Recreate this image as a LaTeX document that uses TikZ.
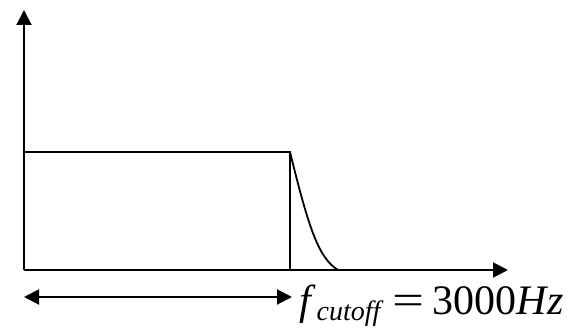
\documentclass[tikz,border=0pt]{standalone}
\usepackage{fontspec}
\setmainfont{Liberation Serif}
\usetikzlibrary{arrows.meta}
\tikzset{
  axis/.style={line width=2pt,-{Triangle[length=15pt,width=15pt]}},
  trace/.style={line width=1.8pt},
  span/.style={line width=2pt,{Triangle[length=15pt,width=15pt]}-{Triangle[length=15pt,width=15pt]}}
}
\begin{document}
\begin{tikzpicture}[x=1pt,y=-1pt]
\useasboundingbox (0,0) rectangle (584,329);
\coordinate (O) at (24,270);
\coordinate (ytop) at (24,10);
\coordinate (xend) at (508,270);
\coordinate (tl) at (24,152);
\coordinate (tr) at (290,152);
\coordinate (br) at (290,270);
\coordinate (ce) at (338,270);
\coordinate (al) at (24,297);
\coordinate (ar) at (292,297);
\draw[axis] (O) -- (ytop);
\draw[axis] (O) -- (xend);
\draw[trace] (tl) -- (tr) -- (br);
\draw[trace] (tr) .. controls (308,225) and (318,258) .. (ce);
\draw[span] (al) -- (ar);
\node[anchor=base west,inner sep=0pt] (lab) at (299,314)
  {\fontsize{42}{42}\selectfont\textit{f}\hspace{1pt}\raisebox{-6pt}{\fontsize{28}{28}\selectfont\textit{cutoff}}\hspace{9pt}\scalebox{1.35}[1]{=}\hspace{8pt}3000\textit{Hz}};
\end{tikzpicture}
\end{document}
